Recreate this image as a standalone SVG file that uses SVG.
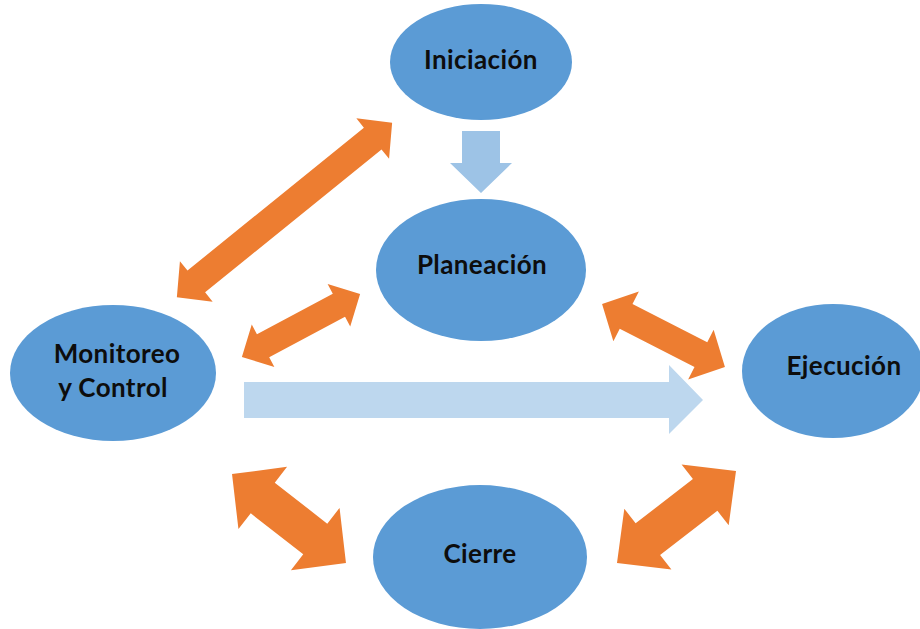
<svg xmlns="http://www.w3.org/2000/svg" width="920" height="629" viewBox="0 0 920 629">
<style>
.node{fill:#5B9BD5;}
.lbl{font-family:Lato,"Liberation Sans",sans-serif;font-weight:bold;font-size:26px;letter-spacing:0.4px;fill:#0D0D0D;text-anchor:middle;}
.oa{fill:#ED7D31;}
</style>
<rect width="920" height="629" fill="#fff"/>
<g id="connectors">
<path class="oa" transform="translate(284.5,210) rotate(-39)" d="M -138.5 0 L -113.5 -26 L -113.5 -14 L 113.5 -14 L 113.5 -26 L 138.5 0 L 113.5 26 L 113.5 14 L -113.5 14 L -113.5 26 Z"/>
<path class="oa" transform="translate(301,325.5) rotate(-28.1)" d="M -67 0 L -43 -24 L -43 -13 L 43 -13 L 43 -24 L 67 0 L 43 24 L 43 13 L -43 13 L -43 24 Z"/>
<path class="oa" transform="translate(663.5,335.5) rotate(27.1)" d="M -69 0 L -42 -28 L -42 -14 L 42 -14 L 42 -28 L 69 0 L 42 28 L 42 14 L -42 14 L -42 28 Z"/>
<path class="oa" transform="translate(289,518.5) rotate(38)" d="M -72.3 0 L -33.3 -39.5 L -33.3 -19.5 L 33.3 -19.5 L 33.3 -39.5 L 72.3 0 L 33.3 39.5 L 33.3 19.5 L -33.3 19.5 L -33.3 39.5 Z"/>
<path class="oa" transform="translate(676.5,517) rotate(-37.7)" d="M -75.2 0 L -36.2 -38.5 L -36.2 -20 L 36.2 -20 L 36.2 -38.5 L 75.2 0 L 36.2 38.5 L 36.2 20 L -36.2 20 L -36.2 38.5 Z"/>
<polygon fill="#9DC3E6" points="462,131 500,131 500,163 512,163 481,193 450,163 462,163"/>
<polygon fill="#BDD7EE" points="244,382 669,382 669,365 703,400 669,434 669,418 244,418"/>
</g>
<g id="iniciacion">
<ellipse class="node" cx="481" cy="62" rx="91" ry="58"/>
<text class="lbl" x="481" y="69">Iniciación</text>
</g>
<g id="planeacion">
<ellipse class="node" cx="481" cy="270" rx="105" ry="71"/>
<text class="lbl" x="482" y="274">Planeación</text>
</g>
<g id="monitoreo">
<ellipse class="node" cx="113" cy="373" rx="103" ry="68"/>
<text class="lbl" x="117" y="363">Monitoreo</text>
<text class="lbl" x="113" y="397">y Control</text>
</g>
<g id="ejecucion">
<ellipse class="node" cx="833" cy="371" rx="91" ry="67"/>
<text class="lbl" x="844" y="375">Ejecución</text>
</g>
<g id="cierre">
<ellipse class="node" cx="480" cy="557" rx="107" ry="72"/>
<text class="lbl" x="480" y="563">Cierre</text>
</g>
</svg>
